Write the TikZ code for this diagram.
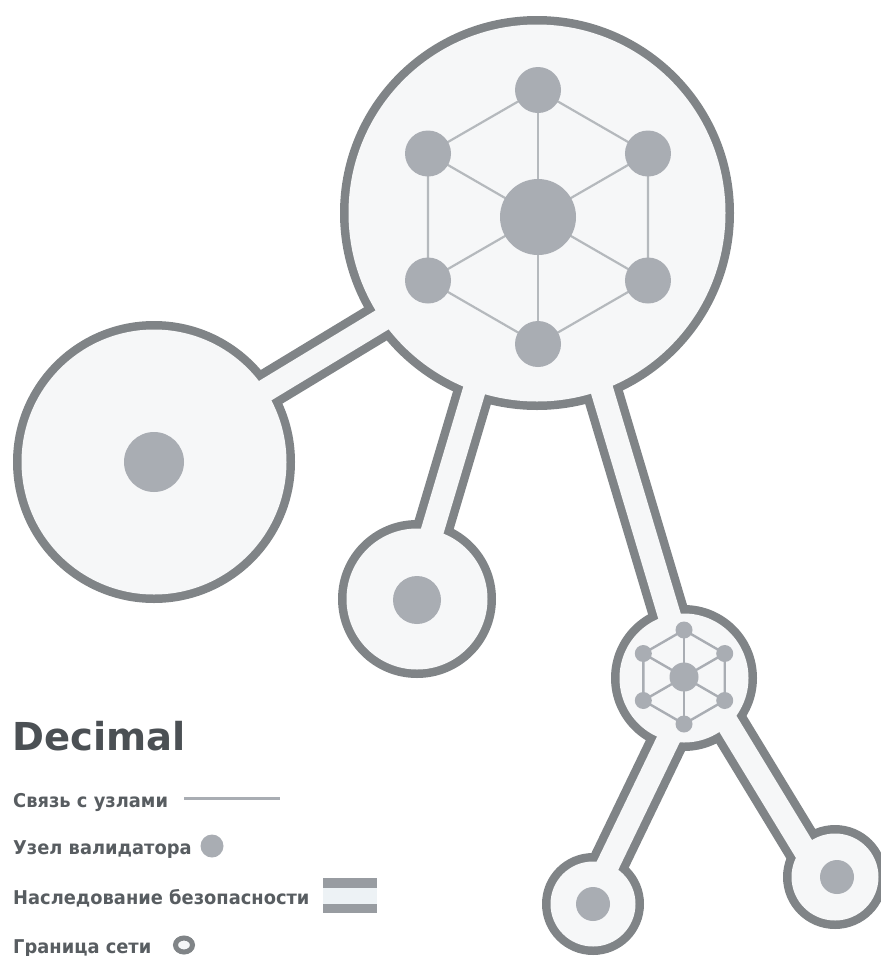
\documentclass[tikz,border=0pt]{standalone}
\usepackage{fontspec}
\setmainfont{DejaVu Sans}
\newfontfamily\legfont{DejaVu Sans}[FakeStretch=0.94]
\definecolor{outc}{HTML}{808487}
\definecolor{fillc}{HTML}{F6F7F8}
\definecolor{nodec}{HTML}{A9ADB3}
\definecolor{edgec}{HTML}{B5B9BD}
\definecolor{titlec}{HTML}{4B5054}
\definecolor{legc}{HTML}{585D61}
\definecolor{barfill}{HTML}{EDF2F5}
\tikzset{
  tubeout/.style={draw=outc, line width=40pt},
  tubein/.style={draw=fillc, line width=23pt},
  hexedge/.style={draw=edgec, line width=2.2pt},
  smalledge/.style={draw=nodec, line width=2.4pt},
  legtext/.style={anchor=base west, inner sep=0pt, text=legc, font=\legfont\bfseries\fontsize{19}{21}\selectfont},
}
\begin{document}
\begin{tikzpicture}[x=1pt,y=-1pt]
\useasboundingbox (0,0) rectangle (881,956);
% centres
\coordinate (B) at (537,213);
\coordinate (L) at (154,462);
\coordinate (M) at (417,599);
\coordinate (H) at (684,678);
\coordinate (BL) at (593,904);
\coordinate (BR) at (835,877);
% tube end points
\coordinate (lb1) at (154,458);
\coordinate (lb2) at (537,226);
\coordinate (bm1) at (527,213);
\coordinate (bm2) at (412,599);
\coordinate (bh1) at (549,213);
\coordinate (bh2) at (688,678);
\coordinate (hl1) at (698,678);
\coordinate (hl2) at (589,904);
\coordinate (hr1) at (700,678);
\coordinate (hr2) at (821,877);
% layer 1: outlines
\fill[outc] (B) circle (197pt);
\fill[outc] (L) circle (141pt);
\fill[outc] (M) circle (79pt);
\fill[outc] (H) circle (73pt);
\fill[outc] (BL) circle (51pt);
\fill[outc] (BR) circle (52pt);
\draw[tubeout] (lb1) -- (lb2);
\draw[tubeout] (bm1) -- (bm2);
\draw[tubeout] (bh1) -- (bh2);
\draw[tubeout] (hl1) -- (hl2);
\draw[tubeout] (hr1) -- (hr2);
% layer 2: fills
\fill[fillc] (B) circle (188.5pt);
\fill[fillc] (L) circle (132.5pt);
\fill[fillc] (M) circle (70.5pt);
\fill[fillc] (H) circle (64.5pt);
\fill[fillc] (BL) circle (42.5pt);
\fill[fillc] (BR) circle (43.5pt);
\draw[tubein] (lb1) -- (lb2);
\draw[tubein] (bm1) -- (bm2);
\draw[tubein] (bh1) -- (bh2);
\draw[tubein] (hl1) -- (hl2);
\draw[tubein] (hr1) -- (hr2);
% big hex network
\begin{scope}[shift={(538,217)}]
  \coordinate (Bc) at (0,0);
  \foreach \n/\a in {t/90,ur/30,lr/-30,b/-90,ll/-150,ul/150}
    \coordinate (B\n) at (\a:127pt);
  \draw[hexedge] (Bt) -- (Bur) -- (Blr) -- (Bb) -- (Bll) -- (Bul) -- cycle;
  \foreach \n in {t,ur,lr,b,ll,ul} \draw[hexedge] (Bc) -- (B\n);
  \foreach \n in {t,ur,lr,b,ll,ul} \fill[nodec] (B\n) circle (23pt);
  \fill[nodec] (Bc) circle (38pt);
\end{scope}
% small hex network
\begin{scope}[shift={(684,677)}]
  \coordinate (Sc) at (0,0);
  \foreach \n/\a in {t/90,ur/30,lr/-30,b/-90,ll/-150,ul/150}
    \coordinate (S\n) at (\a:47pt);
  \draw[smalledge] (St) -- (Sur) -- (Slr) -- (Sb) -- (Sll) -- (Sul) -- cycle;
  \foreach \n in {t,ur,lr,b,ll,ul} \draw[smalledge] (Sc) -- (S\n);
  \foreach \n in {t,ur,lr,b,ll,ul} \fill[nodec] (S\n) circle (8.5pt);
  \fill[nodec] (Sc) circle (14.5pt);
\end{scope}
% single validator dots
\fill[nodec] (L) circle (30pt);
\fill[nodec] (417,600) circle (24pt);
\fill[nodec] (BL) circle (17pt);
\fill[nodec] (837,877) circle (17pt);
% legend
\node[anchor=base west, inner sep=0pt, text=titlec, font=\bfseries\fontsize{38.5}{40}\selectfont] (title) at (12,750) {Decimal};
\node[legtext] (t1) at (13,807) {Связь с узлами};
\node[legtext] (t2) at (13,854) {Узел валидатора};
\node[legtext] (t3) at (13,904) {Наследование безопасности};
\node[legtext] (t4) at (13,953) {Граница сети};
\coordinate (s1a) at (184,798);
\coordinate (s1b) at (280,798);
\draw[nodec, line width=3pt] (s1a) -- (s1b);
\fill[nodec] (212,846) circle (11.5pt);
\fill[barfill] (323,878) rectangle (377,913);
\fill[nodec!90!black] (323,878) rectangle (377,888);
\fill[nodec!90!black] (323,904) rectangle (377,913);
\draw[outc, fill=fillc, line width=5pt] (184,945) ellipse (8.5pt and 7pt);
\end{tikzpicture}
\end{document}
